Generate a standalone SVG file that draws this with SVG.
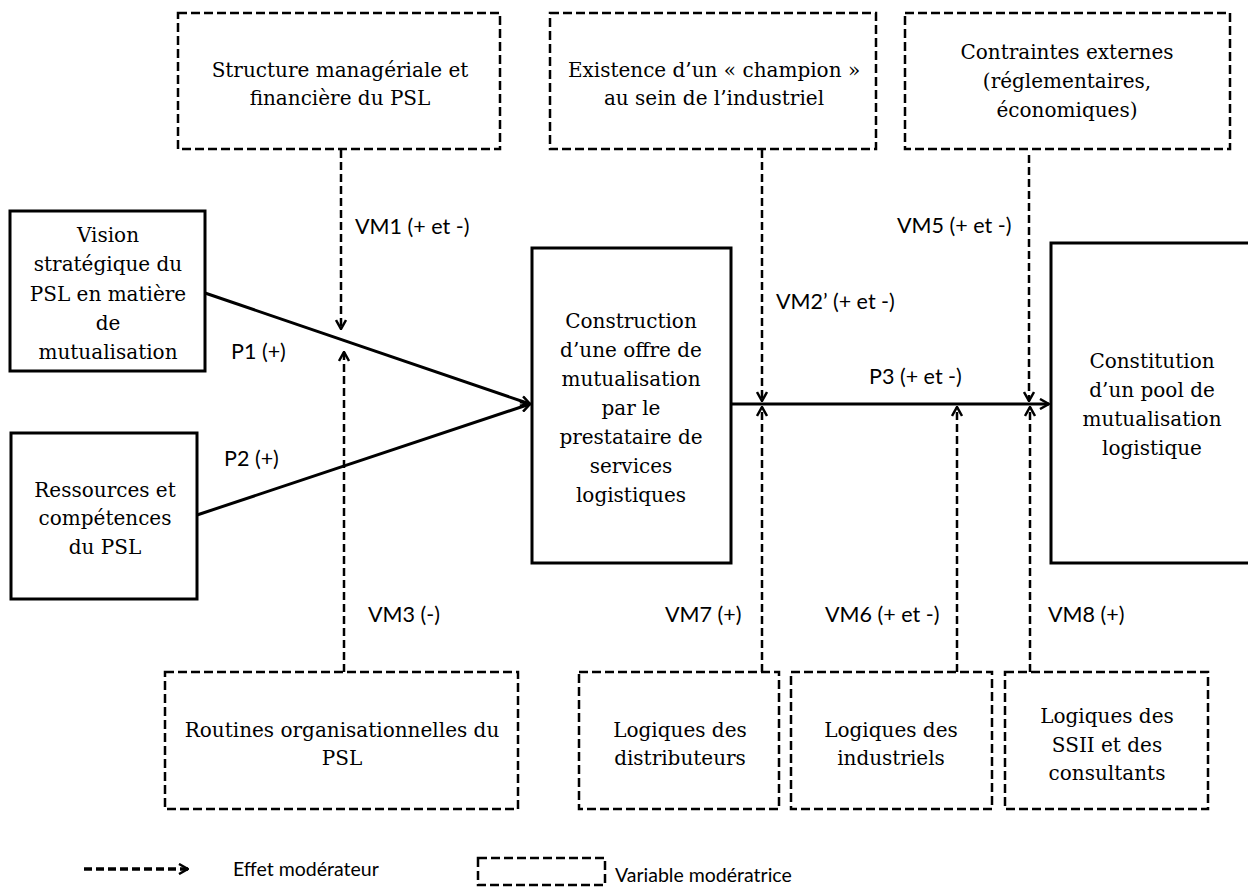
<svg xmlns="http://www.w3.org/2000/svg" width="1248" height="888" viewBox="0 0 1248 888">
<style>
.solid{fill:#fff;stroke:#000;stroke-width:3}
.dash{fill:#fff;stroke:#000;stroke-width:2.5;stroke-dasharray:9 4}
.t{font-family:"DejaVu Serif","Liberation Serif",serif;font-size:20px;fill:#000;text-anchor:middle}
.l{font-family:Lato,"Liberation Sans",sans-serif;font-size:21.5px;fill:#000}
.lg{font-family:Lato,"Liberation Sans",sans-serif;font-size:19.5px;fill:#000}
.c{fill:none;stroke:#000;stroke-width:3}
.cd{fill:none;stroke:#000;stroke-width:2.5;stroke-dasharray:8 4}
</style>
<defs>
<marker id="ah" viewBox="0 0 12 12" refX="11" refY="6" markerWidth="12" markerHeight="12" markerUnits="userSpaceOnUse" orient="auto">
<path d="M2,1 L11,6 L2,11" fill="none" stroke="#000" stroke-width="2.5"/>
</marker>
</defs>
<rect width="1248" height="888" fill="#fff"/>
<g id="connectors">
<line class="c" x1="205" y1="293" x2="530" y2="404" marker-end="url(#ah)"/>
<line class="c" x1="197" y1="515" x2="530" y2="404" marker-end="url(#ah)"/>
<line class="c" x1="731" y1="404" x2="1049" y2="404" marker-end="url(#ah)"/>
<line class="cd" x1="341" y1="150" x2="341" y2="329" marker-end="url(#ah)"/>
<line class="cd" x1="344" y1="672" x2="344" y2="352" marker-end="url(#ah)"/>
<line class="cd" x1="762" y1="150" x2="762" y2="401" marker-end="url(#ah)"/>
<line class="cd" x1="1029" y1="155" x2="1029" y2="401" marker-end="url(#ah)"/>
<line class="cd" x1="762" y1="672" x2="762" y2="407" marker-end="url(#ah)"/>
<line class="cd" x1="957" y1="672" x2="957" y2="407" marker-end="url(#ah)"/>
<line class="cd" x1="1030" y1="672" x2="1030" y2="407" marker-end="url(#ah)"/>
<text class="l" x="355" y="234">VM1 (+ et -)</text>
<text class="l" x="231" y="359">P1 (+)</text>
<text class="l" x="224" y="466">P2 (+)</text>
<text class="l" x="368" y="622">VM3 (-)</text>
<text class="l" x="776" y="309">VM2’ (+ et -)</text>
<text class="l" x="897" y="233">VM5 (+ et -)</text>
<text class="l" x="869" y="384">P3 (+ et -)</text>
<text class="l" x="665" y="622">VM7 (+)</text>
<text class="l" x="825" y="622">VM6 (+ et -)</text>
<text class="l" x="1048" y="622">VM8 (+)</text>
</g>
<g id="n-structure">
<rect class="dash" x="178" y="13" width="322" height="136"/>
<text class="t" x="340" y="77">Structure managériale et</text>
<text class="t" x="340" y="105">financière du PSL</text>
</g>
<g id="n-existence">
<rect class="dash" x="550" y="13" width="326" height="136"/>
<text class="t" x="714" y="77">Existence d’un « champion »</text>
<text class="t" x="714" y="105">au sein de l’industriel</text>
</g>
<g id="n-contraintes">
<rect class="dash" x="905" y="13" width="325" height="136"/>
<text class="t" x="1067" y="59">Contraintes externes</text>
<text class="t" x="1067" y="88">(réglementaires,</text>
<text class="t" x="1067" y="117">économiques)</text>
</g>
<g id="n-vision">
<rect class="solid" x="10" y="211" width="195" height="160"/>
<text class="t" x="108" y="242">Vision</text>
<text class="t" x="108" y="271">stratégique du</text>
<text class="t" x="108" y="301">PSL en matière</text>
<text class="t" x="108" y="330">de</text>
<text class="t" x="108" y="359">mutualisation</text>
</g>
<g id="n-ressources">
<rect class="solid" x="11" y="433" width="186" height="166"/>
<text class="t" x="105" y="497">Ressources et</text>
<text class="t" x="105" y="525">compétences</text>
<text class="t" x="105" y="554">du PSL</text>
</g>
<g id="n-construction">
<rect class="solid" x="532" y="248" width="199" height="315"/>
<text class="t" x="631" y="328">Construction</text>
<text class="t" x="631" y="357">d’une offre de</text>
<text class="t" x="631" y="386">mutualisation</text>
<text class="t" x="631" y="415">par le</text>
<text class="t" x="631" y="444">prestataire de</text>
<text class="t" x="631" y="473">services</text>
<text class="t" x="631" y="502">logistiques</text>
</g>
<g id="n-constitution">
<rect class="solid" x="1051" y="243" width="210" height="320"/>
<text class="t" x="1152" y="368">Constitution</text>
<text class="t" x="1152" y="397">d’un pool de</text>
<text class="t" x="1152" y="426">mutualisation</text>
<text class="t" x="1152" y="455">logistique</text>
</g>
<g id="n-routines">
<rect class="dash" x="165" y="672" width="353" height="137"/>
<text class="t" x="342" y="737">Routines organisationnelles du</text>
<text class="t" x="342" y="765">PSL</text>
</g>
<g id="n-distributeurs">
<rect class="dash" x="579" y="672" width="200" height="137"/>
<text class="t" x="680" y="737">Logiques des</text>
<text class="t" x="680" y="765">distributeurs</text>
</g>
<g id="n-industriels">
<rect class="dash" x="791" y="672" width="201" height="137"/>
<text class="t" x="891" y="737">Logiques des</text>
<text class="t" x="891" y="765">industriels</text>
</g>
<g id="n-ssii">
<rect class="dash" x="1005" y="672" width="203" height="137"/>
<text class="t" x="1107" y="723">Logiques des</text>
<text class="t" x="1107" y="752">SSII et des</text>
<text class="t" x="1107" y="780">consultants</text>
</g>
<g id="legend">
<line class="cd" x1="84" y1="869" x2="188" y2="869" style="stroke-width:3.5" marker-end="url(#ah)"/>
<text class="lg" x="233" y="876">Effet modérateur</text>
<rect class="dash" x="478" y="858" width="127" height="27"/>
<text class="lg" x="615" y="882">Variable modératrice</text>
</g>
</svg>
